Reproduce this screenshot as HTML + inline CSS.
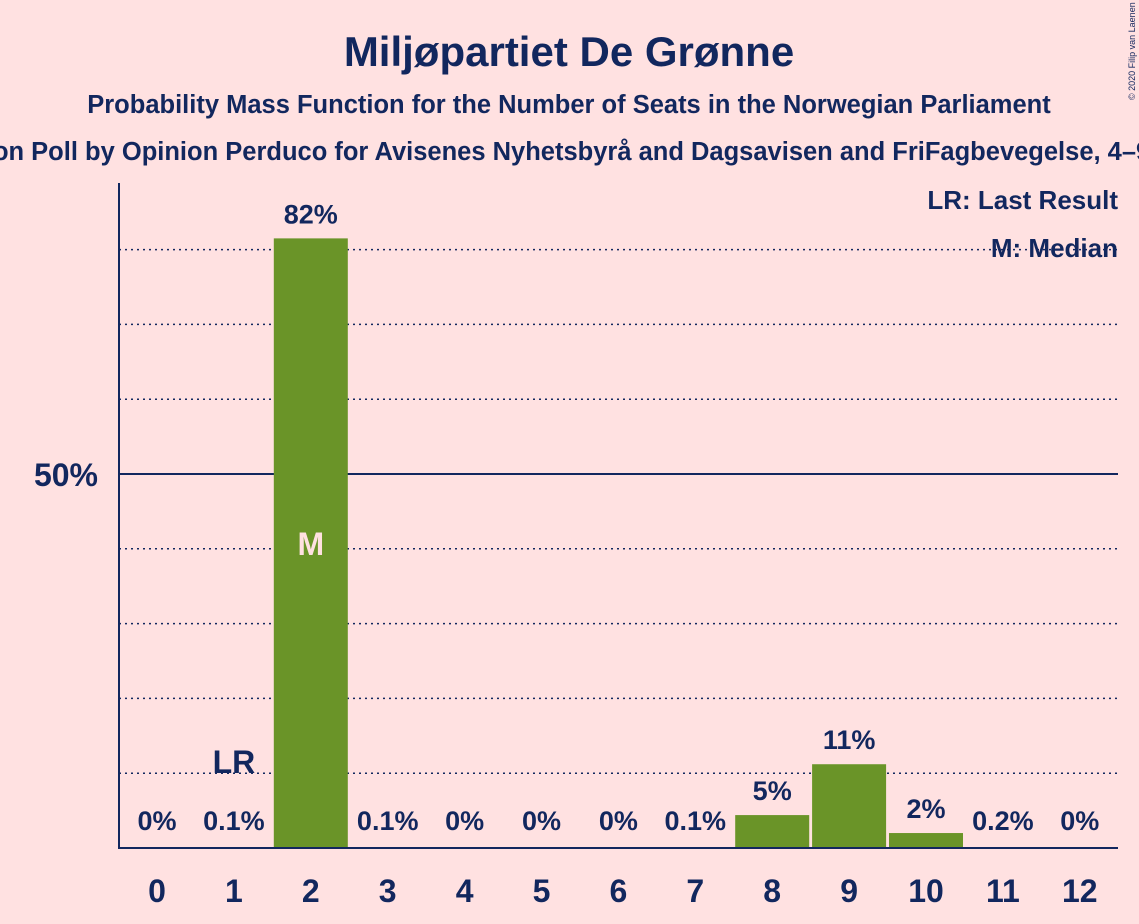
<!DOCTYPE html>
<html><head><meta charset="utf-8">
<style>
html,body{margin:0;padding:0;background:#ffe1e1;}
svg{display:block;font-family:"Liberation Sans",sans-serif;}
</style></head>
<body>
<svg id="chart" width="1139" height="924" viewBox="0 0 1139 924">
<rect width="1139" height="924" fill="#ffe1e1"/>
<text x="569" y="66" text-anchor="middle" font-size="42" font-weight="bold" fill="#12275e">Miljøpartiet De Grønne</text>
<text x="569" y="113" text-anchor="middle" font-size="25.5" font-weight="bold" fill="#12275e">Probability Mass Function for the Number of Seats in the Norwegian Parliament</text>
<text x="612" y="160" text-anchor="middle" font-size="25.5" font-weight="bold" fill="#12275e">Opinion Poll by Opinion Perduco for Avisenes Nyhetsbyrå and Dagsavisen and FriFagbevegelse, 4–9 March 2020</text>
<text transform="translate(1135,100) rotate(-90)" font-size="9" fill="#12275e">© 2020 Filip van Laenen</text>
<g id="grid"></g>
<g id="bars"></g>
<line x1="119" y1="183" x2="119" y2="849" stroke="#12275e" stroke-width="2"/>
<line x1="118" y1="848" x2="1118" y2="848" stroke="#12275e" stroke-width="2"/>
<text x="98" y="486" text-anchor="end" font-size="32" font-weight="bold" fill="#12275e">50%</text>
<text x="1118" y="209" text-anchor="end" font-size="26" font-weight="bold" fill="#12275e">LR: Last Result</text>
<text x="1118" y="257" text-anchor="end" font-size="26" font-weight="bold" fill="#12275e">M: Median</text>
<g id="labels"></g>
</svg>
<script>
const seats = [0,1,2,3,4,5,6,7,8,9,10,11,12];
const probs = [0,0.1,81.5,0.1,0,0,0,0.1,4.4,11.2,2,0.2,0];
const valueLabels = ["0%","0.1%","82%","0.1%","0%","0%","0%","0.1%","5%","11%","2%","0.2%","0%"];
const gridTicks = [10,20,30,40,60,70,80];
const medianSeat = 2;
const lastResultSeat = 1;

const NS="http://www.w3.org/2000/svg";
const x0=157, step=76.9, baseY=848, pxPer=7.48, bw=74;
const xs = s => x0 + s*step;
const ys = v => baseY - v*pxPer;
function mk(tag, attrs, parent){const e=document.createElementNS(NS,tag);for(const k in attrs)e.setAttribute(k,attrs[k]);parent.appendChild(e);return e;}
const grid=document.getElementById('grid'), bars=document.getElementById('bars'), labels=document.getElementById('labels');
gridTicks.forEach(t=>{
  const l=mk('line',{x1:119,x2:1118,y1:ys(t),y2:ys(t),stroke:'#12275e','stroke-width':1.5,'stroke-dasharray':'2,4'},grid);
  
  
});
const g50=mk('line',{x1:119,x2:1118,y1:ys(50),y2:ys(50),stroke:'#12275e','stroke-width':2},grid);


seats.forEach((s,i)=>{
  const v=probs[i], cx=xs(s);
  if(v>=0.5){
    const r=mk('rect',{x:cx-bw/2,y:ys(v),width:bw,height:baseY-ys(v),fill:'#6a9428'},bars);
    
    
  }
  const ly = v>=0.5 ? ys(v)-15 : 830;
  const t=mk('text',{x:cx,y:ly,'text-anchor':'middle','font-size':27,'font-weight':'bold',fill:'#12275e'},labels);
  t.textContent=valueLabels[i];
  
  
  const xt=mk('text',{x:cx,y:902,'text-anchor':'middle','font-size':32,'font-weight':'bold',fill:'#12275e'},labels);
  xt.textContent=String(s);
  
  
});
const mi=seats.indexOf(medianSeat);
const m=mk('text',{x:xs(medianSeat),y:ys(probs[mi]*0.5)+12,'text-anchor':'middle','font-size':32,'font-weight':'bold',fill:'#ffe1e1'},labels);
m.textContent='M';


const lr=mk('text',{x:xs(lastResultSeat),y:773,'text-anchor':'middle','font-size':32,'font-weight':'bold',fill:'#12275e'},labels);
lr.textContent='LR';


</script>
</body></html>
